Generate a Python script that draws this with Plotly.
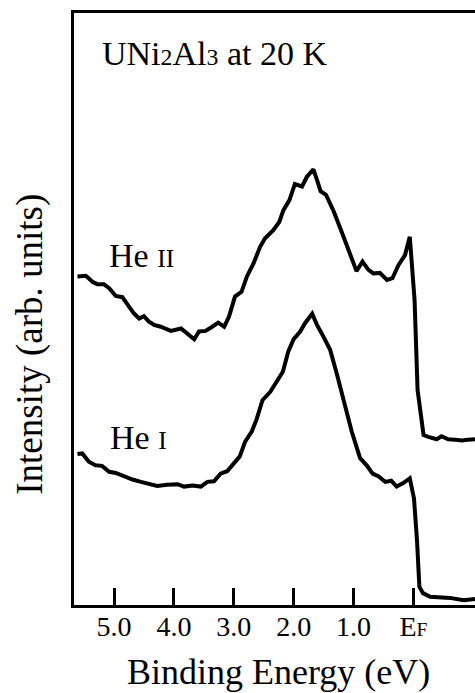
import plotly.graph_objects as go

# Binding energy (eV) and intensity (arb. units, 0-100)
he2_energy = [5.61, 5.47, 5.36, 5.28, 5.17, 5.08, 4.97, 4.86, 4.75, 4.67, 4.58, 4.50, 4.42, 4.33,
              4.22, 4.05, 3.88, 3.78, 3.66, 3.58, 3.47, 3.36, 3.26, 3.16, 3.08, 2.98, 2.87, 2.78,
              2.67, 2.56, 2.48, 2.34, 2.24, 2.17, 2.07, 1.98, 1.86, 1.78, 1.67, 1.61, 1.55, 1.46,
              1.34, 1.20, 1.07, 0.95, 0.85, 0.75, 0.67, 0.56, 0.44, 0.35, 0.25, 0.14, 0.06, -0.02,
              -0.07, -0.17, -0.25, -0.39, -0.47, -0.58, -0.70, -0.81, -0.91, -1.03]
he2_intensity = [55.5, 55.6, 54.6, 54.2, 54.2, 53.5, 52.2, 52.0, 50.4, 49.3, 48.4, 48.8, 47.9, 47.3,
                 47.0, 46.3, 46.7, 45.9, 44.9, 46.2, 46.3, 47.0, 47.7, 47.0, 48.7, 52.1, 52.9, 55.5,
                 57.7, 60.5, 61.9, 63.3, 64.7, 66.7, 68.4, 71.1, 70.7, 72.3, 73.6, 71.8, 69.9, 69.3,
                 66.7, 63.1, 59.7, 56.4, 58.0, 56.6, 56.0, 56.1, 54.9, 55.2, 57.4, 59.1, 62.2, 51.5,
                 36.3, 28.7, 28.4, 28.0, 28.5, 28.0, 27.9, 27.8, 27.9, 28.0]

he1_energy = [5.61, 5.53, 5.42, 5.31, 5.20, 5.08, 4.97, 4.83, 4.69, 4.55, 4.42, 4.28, 4.11, 3.94,
              3.83, 3.69, 3.55, 3.44, 3.33, 3.22, 3.11, 3.00, 2.90, 2.81, 2.70, 2.62, 2.52, 2.39,
              2.28, 2.18, 2.09, 2.00, 1.89, 1.81, 1.69, 1.61, 1.50, 1.39, 1.28, 1.14, 1.03, 0.89,
              0.78, 0.68, 0.58, 0.47, 0.37, 0.28, 0.17, 0.06, -0.01, -0.06, -0.10, -0.16, -0.28,
              -0.61, -0.84, -1.03]
he1_intensity = [25.5, 25.6, 24.2, 23.6, 23.5, 22.5, 22.3, 21.7, 21.2, 20.8, 20.4, 20.1, 20.3, 20.4,
                 20.0, 20.2, 20.0, 20.8, 20.9, 22.2, 22.6, 23.9, 25.1, 27.6, 29.3, 31.3, 34.6, 36.0,
                 37.7, 39.4, 42.8, 44.9, 46.2, 47.6, 49.2, 47.3, 45.3, 43.1, 39.1, 33.5, 29.3, 24.8,
                 23.6, 22.2, 21.7, 20.8, 21.0, 20.0, 20.6, 21.4, 18.0, 11.0, 3.1, 2.0, 1.4,
                 1.2, 0.8, 1.0]

tick_values = [5, 4, 3, 2, 1, 0]
tick_labels = ["5.0", "4.0", "3.0", "2.0", "1.0", "E<span style='font-size:70%'>F</span>"]

FONT = "Liberation Serif"

fig = go.Figure()
for xs, ys in [(he2_energy, he2_intensity), (he1_energy, he1_intensity)]:
    fig.add_trace(go.Scatter(x=xs, y=ys, mode="lines",
                             line=dict(color="black", width=4), showlegend=False,
                             hoverinfo="skip"))

fig.update_layout(
    width=475, height=693,
    margin=dict(l=74, r=0, t=13, b=88),
    paper_bgcolor="white", plot_bgcolor="white",
    font=dict(family=FONT, color="black"),
    xaxis=dict(range=[5.668, -1.029], showgrid=False, zeroline=False,
               showline=True, linecolor="black", linewidth=2.5, mirror=True,
               ticks="inside", ticklen=17, tickwidth=2.5, tickcolor="black",
               tickvals=tick_values, ticktext=tick_labels, ticklabelstandoff=-5,
               tickfont=dict(family=FONT, size=28, color="black")),
    yaxis=dict(range=[0, 100], showgrid=False, zeroline=False,
               showline=True, linecolor="black", linewidth=2.5,
               showticklabels=False, ticks=""),
)

ann = [
    dict(text="UNi<span style='font-size:70%'>2</span>Al<span style='font-size:70%'>3</span> at 20 K",
         x=0.065, y=0.932, xanchor="left", yanchor="middle", size=34),
    dict(text="He <span style='font-size:75%'>II</span>", x=0.0815, y=0.591,
         xanchor="left", yanchor="middle", size=34),
    dict(text="He <span style='font-size:75%'>I</span>", x=0.0848, y=0.283,
         xanchor="left", yanchor="middle", size=34),
    dict(text="Binding Energy (eV)", x=0.511, y=-0.113, xanchor="center",
         yanchor="middle", size=36),
    dict(text="Intensity (arb. units)", x=-0.110, y=0.441, xanchor="center",
         yanchor="middle", size=37, textangle=-90),
]
for a in ann:
    fig.add_annotation(text=a["text"], x=a["x"], y=a["y"], xref="paper", yref="paper",
                       xanchor=a["xanchor"], yanchor=a["yanchor"], showarrow=False,
                       textangle=a.get("textangle", 0),
                       font=dict(family=FONT, size=a["size"], color="black"))

fig.write_html("out.html")
